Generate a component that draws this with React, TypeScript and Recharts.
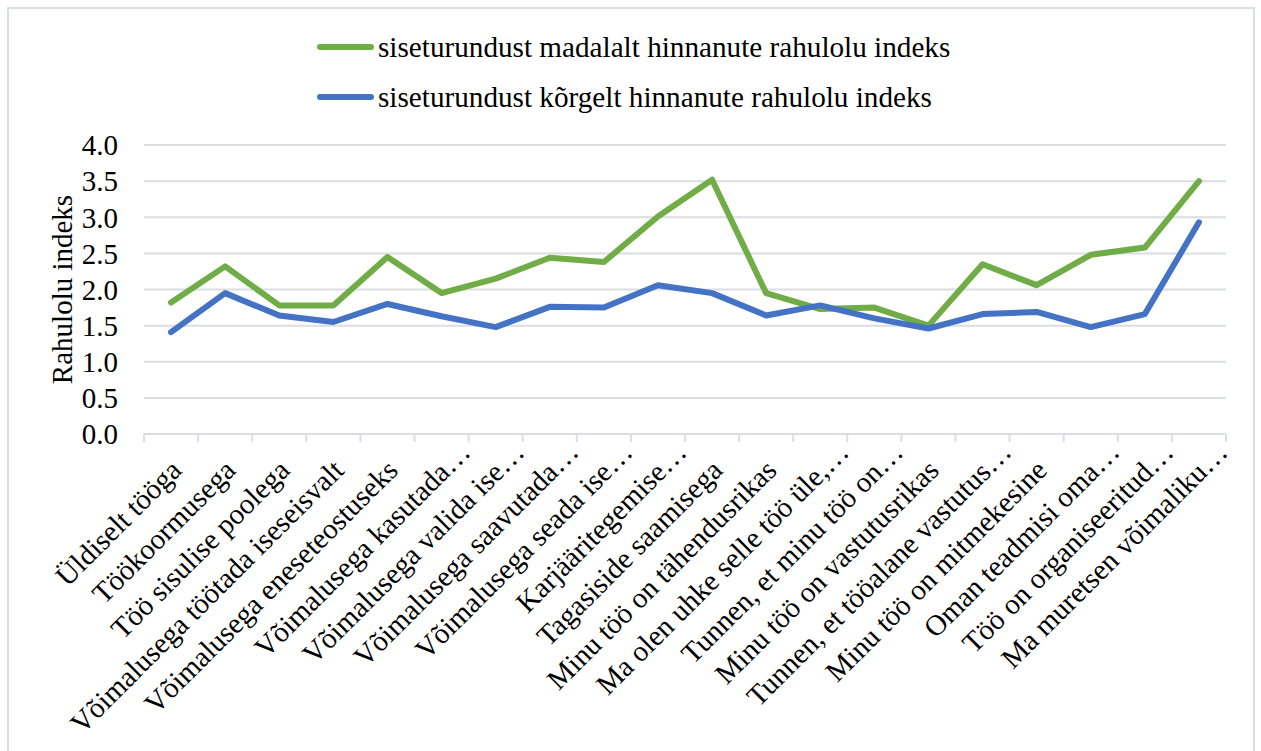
import React from 'react';
import { LineChart, Line, XAxis, YAxis, CartesianGrid, Legend } from 'recharts';

// Question categories along the x axis
const categories: string[] = [
  'Üldiselt tööga',
  'Töökoormusega',
  'Töö sisulise poolega',
  'Võimalusega töötada iseseisvalt',
  'Võimalusega eneseteostuseks',
  'Võimalusega kasutada…',
  'Võimalusega valida ise…',
  'Võimalusega saavutada…',
  'Võimalusega seada ise…',
  'Karjääritegemise…',
  'Tagasiside saamisega',
  'Minu töö on tähendusrikas',
  'Ma olen uhke selle töö üle,…',
  'Tunnen, et minu töö on…',
  'Minu töö on vastutusrikas',
  'Tunnen, et tööalane vastutus…',
  'Minu töö on mitmekesine',
  'Oman teadmisi oma…',
  'Töö on organiseeritud…',
  'Ma muretsen võimaliku…',
];

// Satisfaction index of those who rate internal marketing low
const madalalt: number[] = [
  1.82, 2.32, 1.78, 1.78, 2.45, 1.95, 2.15, 2.44, 2.38, 3.01,
  3.52, 1.95, 1.73, 1.75, 1.50, 2.35, 2.06, 2.48, 2.58, 3.50,
];

// Satisfaction index of those who rate internal marketing high
const korgelt: number[] = [
  1.41, 1.95, 1.64, 1.55, 1.80, 1.63, 1.48, 1.76, 1.75, 2.06,
  1.95, 1.64, 1.78, 1.60, 1.46, 1.66, 1.69, 1.48, 1.66, 2.93,
];

const seriesNames: string[] = [
  'siseturundust madalalt hinnanute rahulolu indeks',
  'siseturundust kõrgelt hinnanute rahulolu indeks',
];
const seriesColors: string[] = ['#70AD47', '#4472C4'];

const yTicks: number[] = [0, 0.5, 1, 1.5, 2, 2.5, 3, 3.5, 4];

const FONT = '"Liberation Serif", "Times New Roman", serif';
const GRID = '#dadde2';

const data = categories.map((name, i) => ({
  pos: i + 0.5,
  name,
  madalalt: madalalt[i],
  korgelt: korgelt[i],
}));

// Category boundaries at whole numbers, category centres at halves
const xTicks: number[] = Array.from({ length: categories.length * 2 + 1 }, (_, i) => i / 2);

const CategoryTick = (props: any) => {
  const { x, y, payload } = props;
  const v: number = payload.value;
  if (Number.isInteger(v)) {
    return <line x1={x} y1={y} x2={x} y2={y + 8} stroke={GRID} strokeWidth={2} />;
  }
  const label = categories[Math.floor(v)];
  const truncated = label.endsWith('…');
  const ax = x + 12;
  const ay = y + 38;
  return (
    <text
      x={ax}
      y={ay}
      dx={truncated ? 26 : 0}
      textAnchor="end"
      fontFamily={FONT}
      fontSize={29}
      fill="#000"
      transform={`rotate(-45, ${ax}, ${ay})`}
    >
      {label}
    </text>
  );
};

const YTitle = (props: any) => {
  const { viewBox } = props;
  const cx = viewBox.x + 62;
  const cy = viewBox.y + viewBox.height / 2;
  return (
    <text
      x={cx}
      y={cy}
      textAnchor="middle"
      dominantBaseline="central"
      fontFamily={FONT}
      fontSize={29}
      fill="#000"
      transform={`rotate(-90, ${cx}, ${cy})`}
    >
      Rahulolu indeks
    </text>
  );
};

const LegendContent = () => (
  <div style={{ height: 135, position: 'relative' }}>
    {seriesNames.map((name, i) => (
      <div
        key={name}
        style={{
          position: 'absolute',
          left: 317,
          top: 20 + i * 50,
          height: 34,
          display: 'flex',
          alignItems: 'center',
          fontFamily: FONT,
          fontSize: 29.2,
          color: '#000',
          whiteSpace: 'nowrap',
        }}
      >
        <span
          style={{
            display: 'inline-block',
            width: 57,
            height: 6,
            borderRadius: 3,
            background: seriesColors[i],
            marginRight: 4,
          }}
        />
        {name}
      </div>
    ))}
  </div>
);

export default function App() {
  return (
    <div
      style={{
        position: 'absolute',
        left: 0,
        top: 0,
        width: 1261,
        height: 751,
        overflow: 'hidden',
        background: '#fff',
      }}
    >
      <div
        style={{
          position: 'absolute',
          left: 7,
          top: 7,
          width: 1248,
          height: 780,
          boxSizing: 'border-box',
          border: `2px solid ${GRID}`,
        }}
      />
      <div style={{ position: 'absolute', left: 0, top: 0 }}>
        <LineChart
          width={1261}
          height={751}
          data={data}
          margin={{ top: 10, right: 35, left: 0, bottom: 0 }}
        >
          <Legend
            verticalAlign="top"
            align="left"
            content={<LegendContent />}
            wrapperStyle={{ top: 10, left: 0, width: 1261, height: 135 }}
          />
          <CartesianGrid vertical={false} stroke={GRID} strokeWidth={2} />
          <XAxis
            dataKey="pos"
            type="number"
            domain={[0, categories.length]}
            ticks={xTicks}
            interval={0}
            height={317}
            tickLine={false}
            tickSize={0}
            tickMargin={0}
            axisLine={{ stroke: GRID, strokeWidth: 2 }}
            tick={<CategoryTick />}
          />
          <YAxis
            width={144}
            domain={[0, 4]}
            ticks={yTicks}
            interval={0}
            tickFormatter={(v: number) => v.toFixed(1)}
            axisLine={false}
            tickLine={false}
            tickSize={0}
            tickMargin={26}
            tick={{ fontFamily: FONT, fontSize: 29, fill: '#000' }}
            label={<YTitle />}
          />
          <Line
            dataKey="madalalt"
            name={seriesNames[0]}
            stroke={seriesColors[0]}
            strokeWidth={6}
            strokeLinecap="round"
            strokeLinejoin="round"
            dot={false}
            isAnimationActive={false}
          />
          <Line
            dataKey="korgelt"
            name={seriesNames[1]}
            stroke={seriesColors[1]}
            strokeWidth={6}
            strokeLinecap="round"
            strokeLinejoin="round"
            dot={false}
            isAnimationActive={false}
          />
        </LineChart>
      </div>
    </div>
  );
}
